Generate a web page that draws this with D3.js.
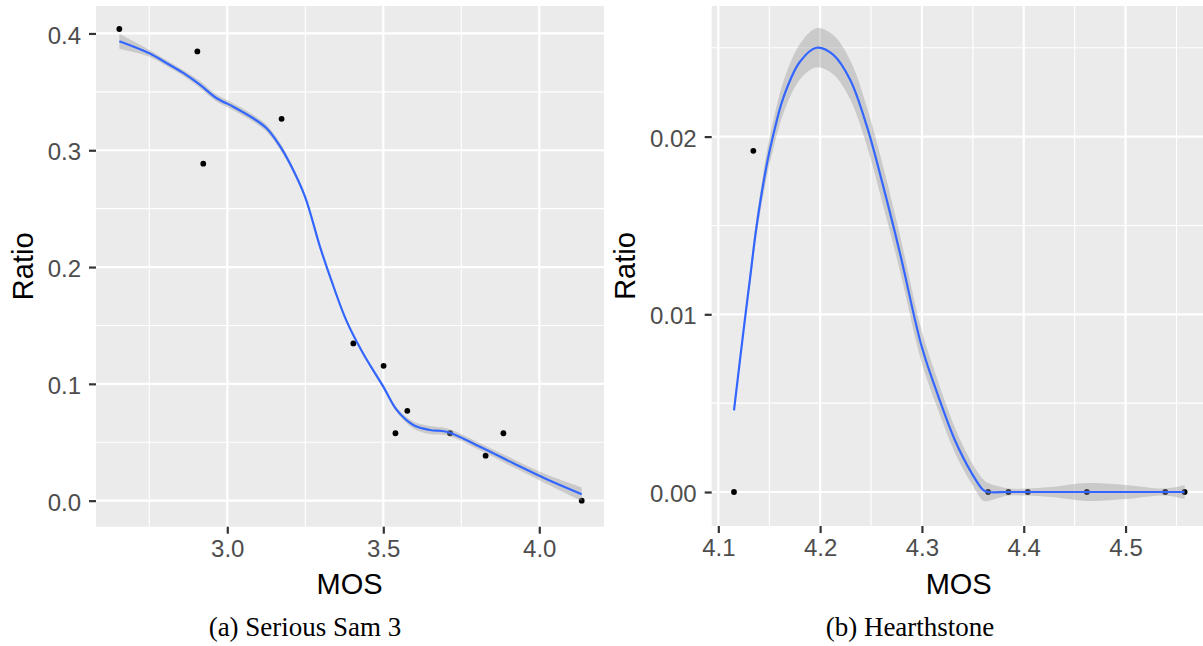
<!DOCTYPE html>
<html>
<head>
<meta charset="utf-8">
<script src="https://cdn.jsdelivr.net/npm/d3@7"></script>
<style>
  html, body { margin: 0; padding: 0; background: #ffffff; }
  svg { display: block; }
</style>
</head>
<body>
<svg id="chart" width="1203" height="646"></svg>
<script>
// ---------- Panel (a): Serious Sam 3 ----------
const mosA   = [2.654, 2.904, 2.923, 3.174, 3.404, 3.501, 3.539, 3.577, 3.714, 3.828, 3.885, 4.136];
const ratioA = [0.4038, 0.3846, 0.2885, 0.3269, 0.1346, 0.1154, 0.0577, 0.0769, 0.0577, 0.0385, 0.0577, 0.0];

// loess fit (x, fitted value, half-width of ribbon)
const fitMosA = [2.654, 2.75, 2.806, 2.86, 2.913, 2.966, 3.019, 3.083, 3.126, 3.169, 3.20, 3.249, 3.297, 3.333, 3.381, 3.435, 3.500, 3.543, 3.596, 3.649, 3.703, 3.810, 3.917, 4.024, 4.136];
const fitA    = [0.3933, 0.383, 0.3745, 0.366, 0.356, 0.3445, 0.3373, 0.3274, 0.3188, 0.3035, 0.289, 0.2603, 0.2175, 0.189, 0.1546, 0.1262, 0.0976, 0.0777, 0.0648, 0.0605, 0.059, 0.0462, 0.032, 0.0183, 0.0055];
const seA     = [0.0065, 0.003, 0.0025, 0.0025, 0.003, 0.003, 0.003, 0.003, 0.003, 0.003, 0.0025, 0.002, 0.0015, 0.0012, 0.0012, 0.0012, 0.0015, 0.002, 0.003, 0.0035, 0.003, 0.003, 0.0035, 0.004, 0.0058];

const xTicksA = [3.0, 3.5, 4.0];
const xMinorA = [2.75, 3.25, 3.75];
const yTicksA = [0.0, 0.1, 0.2, 0.3, 0.4];
const yMinorA = [0.05, 0.15, 0.25, 0.35];

// ---------- Panel (b): Hearthstone ----------
const mosB   = [4.1154, 4.1344, 4.365, 4.385, 4.404, 4.462, 4.539, 4.558];
const ratioB = [0.0, 0.0192, 0.0, 0.0, 0.0, 0.0, 0.0, 0.0];

const fitMosB = [4.1154, 4.125, 4.1311, 4.1377, 4.1475, 4.154, 4.1639, 4.180, 4.1965, 4.213, 4.2295, 4.2458, 4.262, 4.2786, 4.2997, 4.316, 4.3325, 4.349, 4.3604, 4.365, 4.385, 4.404, 4.43, 4.462, 4.50, 4.539, 4.558];
const fitB    = [0.0046, 0.0092, 0.0120, 0.0150, 0.0184, 0.0201, 0.0222, 0.0242, 0.0250, 0.0246, 0.0232, 0.0206, 0.0172, 0.0134, 0.0082, 0.0054, 0.0029, 0.00105, 0.0001, 0.0, 0.0, 0.0, 0.0, 0.0, 0.0, 0.0, 0.0];
const seB     = [0.0002, 0.0003, 0.0004, 0.0005, 0.0007, 0.0008, 0.0009, 0.0010, 0.0011, 0.0011, 0.0011, 0.0011, 0.0011, 0.0010, 0.0009, 0.0008, 0.0007, 0.0006, 0.0006, 0.0005, 0.0002, 0.0002, 0.0003, 0.0005, 0.0004, 0.0002, 0.0004];

const xTicksB = [4.1, 4.2, 4.3, 4.4, 4.5];
const xMinorB = [4.15, 4.25, 4.35, 4.45, 4.55];
const yTicksB = [0.00, 0.01, 0.02];
const yMinorB = [0.005, 0.015, 0.025];

const xTitle = "MOS";
const yTitle = "Ratio";
const captions = ["(a) Serious Sam 3", "(b) Hearthstone"];

// ---------- drawing ----------
const svg = d3.select("#chart");
const SANS = "'Liberation Sans', Arial, sans-serif";
const SERIF = "'Liberation Serif', 'Times New Roman', serif";

function panel(cfg) {
  const x = d3.scaleLinear().domain(cfg.xDomain).range([cfg.left, cfg.right]);
  const y = d3.scaleLinear().domain(cfg.yDomain).range([cfg.bottom, cfg.top]);
  const g = svg.append("g");
  const clipId = "clip" + cfg.id;
  svg.append("clipPath").attr("id", clipId)
    .append("rect").attr("x", cfg.left).attr("y", cfg.top)
    .attr("width", cfg.right - cfg.left).attr("height", cfg.bottom - cfg.top);

  g.append("rect").attr("x", cfg.left).attr("y", cfg.top)
    .attr("width", cfg.right - cfg.left).attr("height", cfg.bottom - cfg.top)
    .attr("fill", "#EBEBEB");

  const grid = g.append("g").attr("clip-path", `url(#${clipId})`);
  grid.selectAll("line.ymin").data(cfg.yMinor).join("line")
    .attr("x1", cfg.left).attr("x2", cfg.right)
    .attr("y1", d => y(d)).attr("y2", d => y(d))
    .attr("stroke", "#fff").attr("stroke-width", 1.1);
  grid.selectAll("line.xmin").data(cfg.xMinor).join("line")
    .attr("y1", cfg.top).attr("y2", cfg.bottom)
    .attr("x1", d => x(d)).attr("x2", d => x(d))
    .attr("stroke", "#fff").attr("stroke-width", 1.1);
  grid.selectAll("line.ymaj").data(cfg.yTicks).join("line")
    .attr("x1", cfg.left).attr("x2", cfg.right)
    .attr("y1", d => y(d)).attr("y2", d => y(d))
    .attr("stroke", "#fff").attr("stroke-width", 2.2);
  grid.selectAll("line.xmaj").data(cfg.xTicks).join("line")
    .attr("y1", cfg.top).attr("y2", cfg.bottom)
    .attr("x1", d => x(d)).attr("x2", d => x(d))
    .attr("stroke", "#fff").attr("stroke-width", 2.2);

  const marks = g.append("g").attr("clip-path", `url(#${clipId})`);
  // points
  marks.selectAll("circle").data(cfg.px.map((d, i) => [d, cfg.py[i]])).join("circle")
    .attr("cx", d => x(d[0])).attr("cy", d => y(d[1])).attr("r", 2.9)
    .attr("fill", "#000");
  // ribbon
  const fit = cfg.fx.map((d, i) => ({ x: d, y: cfg.fy[i], se: cfg.fse[i] }));
  const crv = d3.curveCatmullRom.alpha(0.5);
  const area = d3.area().curve(crv)
    .x(d => x(d.x)).y0(d => y(d.y - d.se)).y1(d => y(d.y + d.se));
  marks.append("path").datum(fit).attr("d", area)
    .attr("fill", "#999999").attr("fill-opacity", 0.4);
  const line = d3.line().curve(crv).x(d => x(d.x)).y(d => y(d.y));
  marks.append("path").datum(fit).attr("d", line)
    .attr("fill", "none").attr("stroke", "#3366FF").attr("stroke-width", 2.2);

  // axes
  const ax = g.append("g").attr("transform", `translate(0,${cfg.bottom})`)
    .call(d3.axisBottom(x).tickValues(cfg.xTicks).tickFormat(cfg.xFmt).tickSize(7).tickPadding(6));
  const ay = g.append("g").attr("transform", `translate(${cfg.left},0)`)
    .call(d3.axisLeft(y).tickValues(cfg.yTicks).tickFormat(cfg.yFmt).tickSize(7).tickPadding(8));
  [ax, ay].forEach(a => {
    a.select(".domain").remove();
    a.selectAll(".tick line").attr("stroke", "#333333").attr("stroke-width", 2.2);
    a.selectAll(".tick text").attr("fill", "#4D4D4D")
      .style("font-family", SANS).style("font-size", "24px");
  });
  ay.selectAll(".tick text").attr("dy", "0.40em");

  // titles
  g.append("text").attr("x", cfg.titleX).attr("y", 594).attr("text-anchor", "middle")
    .style("font-family", SANS).style("font-size", "29px").attr("fill", "#000")
    .text(xTitle);
  g.append("text")
    .attr("transform", `translate(${cfg.yTitleX},${(cfg.top + cfg.bottom) / 2}) rotate(-90)`)
    .attr("text-anchor", "middle")
    .style("font-family", SANS).style("font-size", "29px").attr("fill", "#000")
    .text(yTitle);
  g.append("text").attr("x", cfg.capX).attr("y", 636).attr("text-anchor", "middle")
    .style("font-family", SERIF).style("font-size", "27px").attr("fill", "#000")
    .text(cfg.caption);
}

panel({
  id: "a", left: 96, right: 604, top: 6, bottom: 526.7,
  xDomain: [2.5792, 4.2074], yDomain: [-0.0223, 0.4235],
  px: mosA, py: ratioA, fx: fitMosA, fy: fitA, fse: seA,
  xTicks: xTicksA, xMinor: xMinorA, yTicks: yTicksA, yMinor: yMinorA,
  xFmt: d3.format(".1f"), yFmt: d3.format(".1f"),
  titleX: 349.5, yTitleX: 33, capX: 305, caption: captions[0]
});

panel({
  id: "b", left: 711.7, right: 1207, top: 6, bottom: 526,
  xDomain: [4.0935, 4.5800], yDomain: [-0.001913, 0.02735],
  px: mosB, py: ratioB, fx: fitMosB, fy: fitB, fse: seB,
  xTicks: xTicksB, xMinor: xMinorB, yTicks: yTicksB, yMinor: yMinorB,
  xFmt: d3.format(".1f"), yFmt: d3.format(".2f"),
  titleX: 958.7, yTitleX: 635, capX: 910, caption: captions[1]
});
</script>
</body>
</html>
